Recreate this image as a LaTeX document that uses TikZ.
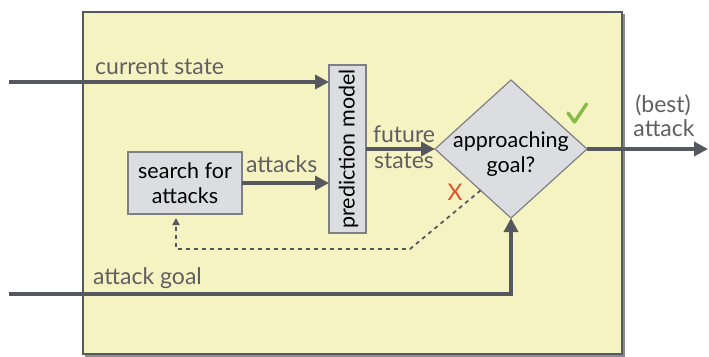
\documentclass[tikz,border=0pt]{standalone}
\usepackage{fontspec}
\setmainfont{Lato}
\usetikzlibrary{arrows.meta,shapes.geometric,calc}
\definecolor{bgyellow}{HTML}{F6F3C3}
\definecolor{linegray}{HTML}{55585E}
\definecolor{labelgray}{HTML}{5F6063}
\definecolor{boxgray}{HTML}{DCDDE0}
\definecolor{boxedge}{HTML}{7F8084}
\definecolor{checkgreen}{HTML}{86BC45}
\definecolor{xred}{HTML}{E0502A}
\begin{document}
\begin{tikzpicture}[x=1pt,y=-1pt,
  flow/.style={line width=4pt, draw=linegray, -{Triangle[length=14pt,width=14pt]}},
  feedback/.style={line width=1.8pt, draw=linegray, dash pattern=on 4pt off 4pt, -{Triangle[length=7pt,width=7pt]}},
  procbox/.style={rectangle, draw=boxedge, fill=boxgray, line width=1.2pt, outer sep=0pt, inner sep=0pt},
  boxtext/.style={font=\fontsize{21.5}{25}\selectfont, text=black, align=center},
  lbl/.style={font=\fontsize{23}{28}\selectfont, text=labelgray, inner sep=0pt},
  checkmark/.style={draw=checkgreen, line width=3.4pt, line cap=round, line join=round}
]
\useasboundingbox (0,0) rectangle (709,356);
% frame with shadow
\fill[black!45] (85,14) rectangle (624.5,356.5);
\node[rectangle, draw=linegray, fill=bgyellow, line width=1.2pt, minimum width=539pt, minimum height=342pt, anchor=north west, outer sep=0pt] (frame) at (83,12) {};

% blocks
\node[procbox, minimum width=114pt, minimum height=62pt] (search) at (185,183) {};
\node[boxtext] at (search.center) {search for\\attacks};
\node[procbox, minimum width=37pt, minimum height=168pt] (pm) at (347.5,149) {};
\node[boxtext, rotate=90] at ($(pm.center)+(1,0)$) {prediction model};
\node[diamond, draw=boxedge, fill=boxgray, line width=1.2pt, minimum width=152pt, minimum height=138pt, inner sep=0pt, outer sep=0pt] (goal) at (511,149) {};
\node[boxtext] at ($(goal.center)+(0,5)$) {approaching\\goal?};

% free ends
\coordinate (csin) at (9,82);
\coordinate (agin) at (9,294);
\coordinate (bestout) at (708,149);
\coordinate (fbstart) at ($(goal.west)!0.6!(goal.south)$);
\coordinate (fbbend) at (410,249);
\coordinate (fbleft) at (176,249);

% connectors
\draw[flow] (csin) -- (csin -| pm.west);
\draw[flow] (search.east) -- (search.east -| pm.west);
\draw[flow] (pm.east |- goal.west) -- (goal.west);
\draw[flow] (goal.east) -- (bestout);
\draw[flow] (agin) -- (goal.south |- agin) -- (goal.south);
\draw[feedback, shorten >=4pt] (fbstart) -- (fbbend) -- (fbleft) -- (fbleft |- search.south);

% labels
\node[lbl, anchor=base west] at (95,74) {current state};
\node[lbl, anchor=base west] at (246,172) {attacks};
\node[lbl, anchor=base] at (404,142) {future};
\node[lbl, anchor=base] at (404,168) {states};
\node[lbl, anchor=base] at (663,112) {(best)};
\node[lbl, anchor=base] at (664,136) {attack};
\node[lbl, anchor=base west] at (93,284) {attack goal};
\draw[checkmark] (568,113) -- (574.5,122) -- (586.5,104);
\node[text=xred, font=\fontsize{23}{23}\selectfont, inner sep=0pt] at (455,192) {X};
\end{tikzpicture}
\end{document}
